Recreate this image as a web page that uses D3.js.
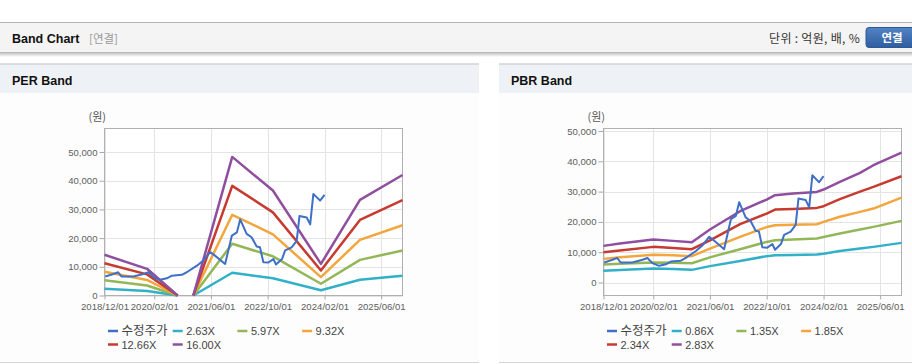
<!DOCTYPE html>
<html><head><meta charset="utf-8">
<script src="https://cdn.jsdelivr.net/npm/d3@7"></script>
<style>
html,body{margin:0;padding:0;background:#fff;}
svg{display:block;}
</style></head>
<body>
<svg id="c" width="912" height="364"></svg>
<script>
// ---------------- DATA ----------------
const xTickDates = ["2018-12-01","2020-02-01","2021-06-01","2022-10-01","2024-02-01","2025-06-01"];
const xTickLabels = ["2018/12/01","2020/02/01","2021/06/01","2022/10/01","2024/02/01","2025/06/01"];
const yTicks = [0,10000,20000,30000,40000,50000];

// adjusted price (수정주가)
const priceDates = ["2018-12-07","2019-02-16","2019-03-28","2019-04-27","2019-08-05","2019-11-01","2019-12-13","2020-01-25","2020-03-22","2020-05-19","2020-07-01","2020-09-25","2020-11-06","2021-02-01","2021-03-28","2021-05-25","2021-07-06","2021-10-01","2021-11-28","2022-01-10","2022-02-07","2022-04-04","2022-05-16","2022-06-29","2022-07-27","2022-08-25","2022-10-07","2022-11-19","2022-12-12","2023-02-01","2023-02-28","2023-04-25","2023-06-07","2023-07-01","2023-09-01","2023-10-01","2023-10-28","2023-11-27","2023-12-25","2024-02-01"];
const priceValues = [6600,7500,8100,6600,6600,7500,8100,6400,5500,6000,6900,7200,8100,10400,12200,15100,13900,11000,20900,22000,26500,21500,20300,17100,16800,11600,11500,12700,10800,12700,15700,16800,19000,27700,27200,24800,35400,34200,33100,35100];

// PER band
const perLabels = ["2.63X","5.97X","9.32X","12.66X","16.00X"];
const perDates = ["2018-12-01","2019-12-01","2020-08-20","2020-10-20","2021-01-01","2021-12-01","2022-11-15","2024-01-01","2024-12-01","2025-12-01"];
const per263 = [2330,1530,0,null,0,7940,6020,1810,5480,6910];
const per597 = [5300,3470,0,null,0,18020,13660,4100,12420,15670];
const per932 = [8270,5420,0,null,0,28140,21320,6410,19400,24470];
const per1266 = [11240,7360,0,null,0,38220,28960,8700,26350,33230];
const per1600 = [14200,9300,0,null,0,48300,36600,11000,33300,42000];

// PBR band
const pbrLabels = ["0.86X","1.35X","1.85X","2.34X","2.83X"];
const pbrDates = ["2018-12-01","2019-04-20","2020-02-01","2020-07-20","2020-12-28","2021-06-01","2022-02-15","2022-10-01","2022-12-12","2023-05-15","2023-12-05","2024-02-01","2024-06-20","2024-12-10","2025-04-04","2025-12-01"];
const pbr086 = [3840,4100,4610,4450,4170,5400,7100,8700,9010,9100,9230,9500,10400,11200,11760,13080];
const pbr135 = [5930,6200,6590,6500,6370,8300,11000,13400,13960,14200,14510,15000,16200,17500,18360,20340];
const pbr185 = [7800,8300,9120,9000,8680,11200,15060,18300,18910,19100,19240,20000,21700,23300,24410,28040];
const pbr234 = [10000,10600,11760,11400,10990,13900,19240,22760,24080,24300,24630,25180,27500,30000,31560,35080];
const pbr283 = [12090,12860,14180,13740,13300,17480,23530,27380,28810,29360,29910,30680,33210,36180,38710,42890];

const priceLabel = "수정주가";
const colors = ["#3f6fc6","#31b0c8","#93b757","#f2a63d","#c63a30","#8f4f9e"];

// ---------------- DRAW ----------------
const svg = d3.select("#c");
const parse = d3.timeParse("%Y-%m-%d");
const FONT = "'Liberation Sans', Arial, 'Noto Sans CJK KR', sans-serif";
const KFONT = "'Noto Sans CJK KR', 'Liberation Sans', sans-serif";

// page header
svg.append("rect").attr("x",0).attr("y",0).attr("width",912).attr("height",364).attr("fill","#fff");
const defs = svg.append("defs");
const sh = defs.append("linearGradient").attr("id","shadow").attr("x1",0).attr("y1",0).attr("x2",0).attr("y2",1);
sh.append("stop").attr("offset","0%").attr("stop-color","#c8c8c8");
sh.append("stop").attr("offset","100%").attr("stop-color","#ffffff");
const bg = defs.append("linearGradient").attr("id","btn").attr("x1",0).attr("y1",0).attr("x2",0).attr("y2",1);
bg.append("stop").attr("offset","0%").attr("stop-color","#5283c4");
bg.append("stop").attr("offset","100%").attr("stop-color","#2f5d9f");

svg.append("rect").attr("x",0).attr("y",22).attr("width",912).attr("height",31).attr("fill","#f4f4f4");
svg.append("line").attr("x1",0).attr("x2",912).attr("y1",22.5).attr("y2",22.5).attr("stroke","#b4b4b4");
svg.append("line").attr("x1",0).attr("x2",912).attr("y1",52.5).attr("y2",52.5).attr("stroke","#b9b9b9");
svg.append("rect").attr("x",0).attr("y",53).attr("width",912).attr("height",4).attr("fill","url(#shadow)");
svg.append("text").attr("x",12).attr("y",43).attr("font-family",FONT).attr("font-weight","bold")
  .attr("font-size","12.5px").attr("fill","#111").text("Band Chart");
svg.append("text").attr("x",89).attr("y",43).attr("font-family",KFONT)
  .attr("font-size","11.5px").attr("fill","#999").text("[연결]");
svg.append("text").attr("x",860).attr("y",43).attr("text-anchor","end").attr("font-family",KFONT)
  .attr("font-size","12px").attr("fill","#333").attr("letter-spacing","0.3px").text("단위 : 억원, 배, %");
svg.append("rect").attr("x",866).attr("y",27.5).attr("width",52).attr("height",20).attr("rx",3)
  .attr("fill","url(#btn)").attr("stroke","#2d5896");
svg.append("text").attr("x",892).attr("y",42).attr("text-anchor","middle").attr("font-family",KFONT)
  .attr("font-weight","bold").attr("font-size","11.5px").attr("fill","#fff").text("연결");

function panel(x0, w, title){
  svg.append("rect").attr("x",x0).attr("y",64).attr("width",w).attr("height",29).attr("fill","#eef2f7");
  svg.append("rect").attr("x",x0).attr("y",93).attr("width",w).attr("height",269).attr("fill","#fdfdfd");
  svg.append("line").attr("x1",x0).attr("x2",x0+w).attr("y1",64).attr("y2",64).attr("stroke","#d2d2d2").attr("stroke-width",1.5);
  svg.append("line").attr("x1",x0).attr("x2",x0+w).attr("y1",362.5).attr("y2",362.5).attr("stroke","#d6d6d6");
  svg.append("text").attr("x",x0+12).attr("y",85).attr("font-family",FONT).attr("font-weight","bold")
    .attr("font-size","12.5px").attr("fill","#111").text(title);
}
panel(0,479,"PER Band");
panel(499,413,"PBR Band");

function chart(opt){
  const {left,right,yDomain,bandDates,bands,labels} = opt;
  const top = 128.5, bottom = 295.5;
  const x = d3.scaleTime().domain([parse("2018-12-01"),parse("2025-12-01")]).range([left,right]);
  const y = d3.scaleLinear().domain(yDomain).range([bottom,top]);
  const g = svg.append("g");
  g.append("rect").attr("x",left).attr("y",top).attr("width",right-left).attr("height",bottom-top).attr("fill","#fff");
  // grid
  g.selectAll(".hg").data(yTicks).join("line").attr("x1",left).attr("x2",right)
    .attr("y1",d=>Math.round(y(d))+0.5).attr("y2",d=>Math.round(y(d))+0.5).attr("stroke","#e4e4e4");
  g.selectAll(".vg").data(xTickDates).join("line").attr("y1",top).attr("y2",bottom)
    .attr("x1",d=>Math.round(x(parse(d)))+0.5).attr("x2",d=>Math.round(x(parse(d)))+0.5).attr("stroke","#e4e4e4");
  // axes
  const ya = d3.axisLeft(y).tickValues(yTicks).tickSize(5).tickPadding(2).tickFormat(d3.format(","));
  const yg = g.append("g").attr("transform",`translate(${left},0)`).call(ya);
  const xa = d3.axisBottom(x).tickValues(xTickDates.map(parse)).tickSize(4).tickPadding(4)
    .tickFormat((d,i)=>xTickLabels[i]);
  const xg = g.append("g").attr("transform",`translate(0,${bottom})`).call(xa);
  [yg,xg].forEach(a=>{
    a.select(".domain").remove();
    a.selectAll("line").attr("stroke","#a8a8a8");
    a.selectAll("text").attr("font-family",FONT).attr("font-size","9.6px").attr("fill","#5e5e5e");
  });
  // border
  g.append("rect").attr("x",left).attr("y",top).attr("width",right-left).attr("height",bottom-top)
    .attr("fill","none").attr("stroke","#b0b0b0");
  g.append("text").attr("x",left-16).attr("y",121).attr("font-family",KFONT).attr("font-size","11px")
    .attr("fill","#555").text("(원)");
  // lines
  const line = d3.line().defined(d=>d.v!=null).x(d=>x(d.t)).y(d=>y(d.v));
  const cl = g.append("g");
  bands.forEach((vals,i)=>{
    const data = bandDates.map((d,j)=>({t:parse(d),v:vals[j]}));
    cl.append("path").attr("d",line(data)).attr("fill","none").attr("stroke",colors[i+1])
      .attr("stroke-width",2.5).attr("stroke-linejoin","round");
  });
  const pdata = priceDates.map((d,j)=>({t:parse(d),v:priceValues[j]}));
  cl.append("path").attr("d",line(pdata)).attr("fill","none").attr("stroke",colors[0])
    .attr("stroke-width",2).attr("stroke-linejoin","round");
  // legend
  const items = [priceLabel].concat(labels);
  items.forEach((t,i)=>{
    const col = i%4, row = Math.floor(i/4);
    const lx = left+3.5+col*64.7, ly = 331+row*13.5;
    g.append("line").attr("x1",lx).attr("x2",lx+10).attr("y1",ly).attr("y2",ly)
      .attr("stroke",colors[i]).attr("stroke-width",2.5);
    g.append("text").attr("x",lx+13.5).attr("y",ly+4).attr("font-family",i===0?KFONT:FONT)
      .attr("font-size",i===0?"12.5px":"11px").attr("fill","#444").text(t);
  });
}

chart({left:104.5,right:402.5,yDomain:[0,58200],bandDates:perDates,
  bands:[per263,per597,per932,per1266,per1600],labels:perLabels});
chart({left:603.5,right:901.5,yDomain:[-4290,50830],bandDates:pbrDates,
  bands:[pbr086,pbr135,pbr185,pbr234,pbr283],labels:pbrLabels});
</script>
</body></html>
